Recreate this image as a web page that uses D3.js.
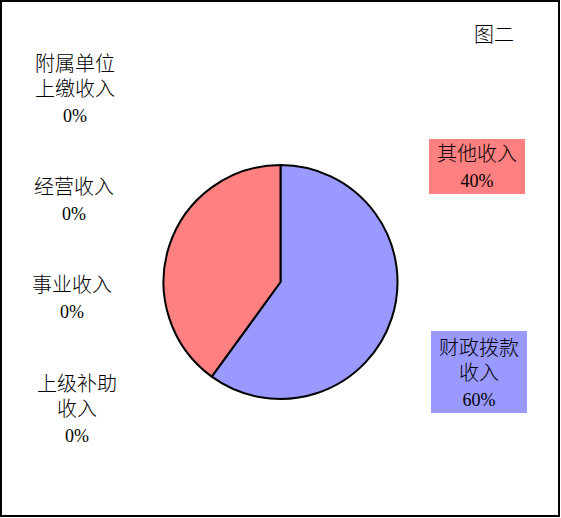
<!DOCTYPE html>
<html>
<head>
<meta charset="utf-8">
<script src="https://cdn.jsdelivr.net/npm/d3@7"></script>
<style>
  body { margin: 0; background: #fff; }
  text { font-family: 'Liberation Serif', 'Noto Sans CJK SC', serif; font-size: 18px; fill: #000; }
  .cjk { font-size: 20px; font-weight: 300; }
</style>
</head>
<body>
<div class="canvas"></div>
<script>
'use strict';

// data
const categories = ['财政拨款收入', '其他收入', '上级补助收入', '事业收入', '经营收入', '附属单位上缴收入'];
const values = [60, 40, 0, 0, 0, 0];
const labelLines = [
  ['财政拨款', '收入'],
  ['其他收入'],
  ['上级补助', '收入'],
  ['事业收入'],
  ['经营收入'],
  ['附属单位', '上缴收入']
];
const colors = ['#9999ff', '#ff8080', 'none', 'none', 'none', 'none'];
const title = '图二';

// where each label sits (x centre, first baseline, box or not)
const labelPos = [
  { x: 479, y: 355, box: [431, 331, 96, 82] },
  { x: 477, y: 161, box: [429, 139, 96, 55] },
  { x: 77, y: 391 },
  { x: 72, y: 292 },
  { x: 74, y: 194 },
  { x: 75, y: 71 }
];

const width = 561;
const height = 518;
const lineH = 25;

const svg = d3
  .select('.canvas')
  .append('svg')
  .attr('width', width)
  .attr('height', height);

svg
  .append('rect')
  .attr('x', 1)
  .attr('y', 1)
  .attr('width', 558)
  .attr('height', 515)
  .attr('fill', '#fff')
  .attr('stroke', '#000')
  .attr('stroke-width', 2);

svg
  .append('text')
  .attr('class', 'cjk')
  .attr('x', 494)
  .attr('y', 42)
  .attr('text-anchor', 'middle')
  .text(title);

const data = categories.map((c, i) => ({ name: c, value: values[i], lines: labelLines[i], color: colors[i], pos: labelPos[i] }));

const pie = d3.pie().sort(null).value(d => d.value);
const arc = d3.arc().innerRadius(0).outerRadius(117);

const graph = svg.append('g').attr('transform', 'translate(280.5, 282)');

graph
  .selectAll('path')
  .data(pie(data).filter(d => d.data.value > 0))
  .enter()
  .append('path')
  .attr('d', arc)
  .attr('fill', d => d.data.color)
  .attr('stroke', '#000')
  .attr('stroke-width', 2)
  .attr('stroke-linejoin', 'round');

const fmt = d3.format('.0%');
const total = d3.sum(values);

const labels = svg
  .selectAll('g.label')
  .data(data)
  .enter()
  .append('g')
  .attr('class', 'label');

labels
  .filter(d => d.pos.box)
  .append('rect')
  .attr('x', d => d.pos.box[0])
  .attr('y', d => d.pos.box[1])
  .attr('width', d => d.pos.box[2])
  .attr('height', d => d.pos.box[3])
  .attr('fill', d => d.color);

labels
  .append('text')
  .attr('text-anchor', 'middle')
  .each(function (d) {
    const t = d3.select(this);
    d.lines.forEach((r, i) => {
      t.append('tspan')
        .attr('class', 'cjk')
        .attr('x', d.pos.x)
        .attr('y', d.pos.y + i * lineH)
        .text(r);
    });
    t.append('tspan')
      .attr('x', d.pos.x)
      .attr('y', d.pos.y + d.lines.length * lineH + 1)
      .text(fmt(d.value / total));
  });
</script>
</body>
</html>
